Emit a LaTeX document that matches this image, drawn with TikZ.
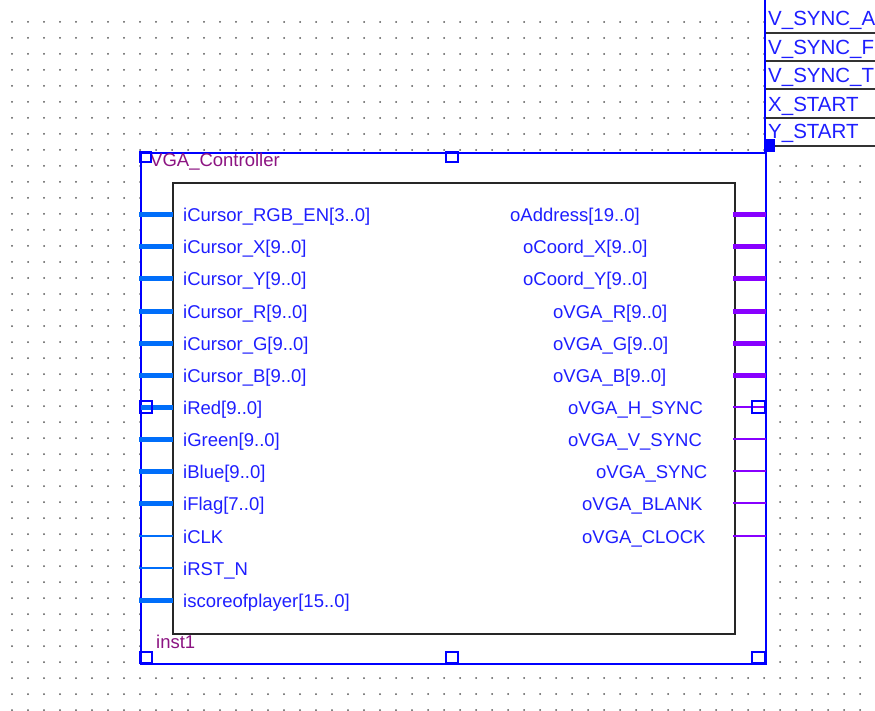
\documentclass[tikz,border=0pt]{standalone}
\usepackage{fontspec}
\setmainfont{Liberation Sans}
\usetikzlibrary{positioning}
\definecolor{pinblue}{RGB}{0,110,250}
\definecolor{boxblue}{RGB}{0,0,255}
\definecolor{outviolet}{RGB}{136,0,255}
\definecolor{labelblue}{RGB}{30,30,255}
\definecolor{instpurple}{RGB}{140,20,130}
\definecolor{griddot}{RGB}{85,85,85}

\begin{document}
\begin{tikzpicture}[x=1pt, y=-1pt,
    pinfont/.style={font=\fontsize{18.5}{20}\selectfont, text=labelblue, inner sep=0pt},
    tablefont/.style={font=\fontsize{20.5}{22}\selectfont, text=labelblue, inner sep=0pt},
    instfont/.style={font=\fontsize{18.5}{20}\selectfont, text=instpurple, inner sep=0pt},
    busin/.style={draw=pinblue, line width=5pt},
    wirein/.style={draw=pinblue, line width=2pt},
    busout/.style={draw=outviolet, line width=5pt},
    wireout/.style={draw=outviolet, line width=2pt},
    tick/.style={draw=boxblue, line width=1.6pt},
    rowline/.style={draw=black!80, line width=1.8pt}
]
\useasboundingbox (0,0) rectangle (875,711);
\clip (0,0) rectangle (875,711);

% background grid
\foreach \gx in {0,...,54}
  \foreach \gy in {0,...,43}
    \fill[griddot] (12+16*\gx, 22+16*\gy) circle[radius=1pt];

% symbol frame and body
\node (sym) [draw=boxblue, fill=white, line width=1.6pt, minimum width=625pt, minimum height=511pt, anchor=north west, inner sep=0pt] at (140,152) {};
\node (core) [draw=black!85, line width=1.6pt, minimum width=562pt, minimum height=451pt, anchor=north west, inner sep=0pt] at (172,182) {};

\node (symname) [instfont, anchor=base west] at (150,167) {VGA\_Controller};
\node (instname) [instfont, anchor=base west] at (156,648) {inst1};

% frame handles
\draw[tick] (140,152) rectangle (151,162);
\draw[tick] (446,152) rectangle (458,162);
\draw[tick] (140,652) rectangle (152,663);
\draw[tick] (446,652) rectangle (458,663);
\draw[tick] (752,652) rectangle (765,663);

% inputs
\foreach \name/\kind [count=\k from 0] in {
    {iCursor\_RGB\_EN[3..0]}/busin, {iCursor\_X[9..0]}/busin, {iCursor\_Y[9..0]}/busin,
    {iCursor\_R[9..0]}/busin, {iCursor\_G[9..0]}/busin, {iCursor\_B[9..0]}/busin,
    {iRed[9..0]}/busin, {iGreen[9..0]}/busin, {iBlue[9..0]}/busin, {iFlag[7..0]}/busin,
    {iCLK}/wirein, {iRST\_N}/wirein, {iscoreofplayer[15..0]}/busin} {
  \pgfmathsetmacro\py{round(214.5+32.1*\k)}
  \coordinate (inpin\k) at (139, \py);
  \coordinate (inend\k) at (173, \py);
  \path[\kind] (inpin\k) -- (inend\k);
  \node (inlbl\k) [pinfont, anchor=base west] at (183, \py+7) {\name};
}
\draw[tick, line width=1.3pt] (140,401) rectangle (152,413);

% outputs
\foreach \name/\kind/\sx [count=\k from 0] in {
    {oAddress[19..0]}/busout/510, {oCoord\_X[9..0]}/busout/523, {oCoord\_Y[9..0]}/busout/523,
    {oVGA\_R[9..0]}/busout/553, {oVGA\_G[9..0]}/busout/553, {oVGA\_B[9..0]}/busout/553,
    {oVGA\_H\_SYNC}/wireout/568, {oVGA\_V\_SYNC}/wireout/568, {oVGA\_SYNC}/wireout/596,
    {oVGA\_BLANK}/wireout/582, {oVGA\_CLOCK}/wireout/582} {
  \pgfmathsetmacro\py{round(214.5+32.1*\k)}
  \coordinate (outend\k) at (733, \py);
  \coordinate (outpin\k) at (766, \py);
  \path[\kind] (outend\k) -- (outpin\k);
  \node (outlbl\k) [pinfont, anchor=base west] at (\sx, \py+7) {\name};
}
\draw[tick, line width=1.3pt] (752,401) rectangle (765,413);

% parameter table (top right)
\fill[white] (765,0) rectangle (875,152);
\draw[tick] (765,0) -- (765,152);
\foreach \pname/\py [count=\r from 0] in {V\_SYNC\_A/26, V\_SYNC\_F/55, V\_SYNC\_T/83, X\_START/112, Y\_START/139} {
  \node (param\r) [tablefont, anchor=base west] at (768,\py) {\pname};
}
\foreach \ly in {33,61,89,118}
  \draw[rowline] (766,\ly) -- (876,\ly);
\draw[rowline] (775,146) -- (876,146);
\fill[boxblue] (765,139) rectangle (775,152);
\end{tikzpicture}
\end{document}
